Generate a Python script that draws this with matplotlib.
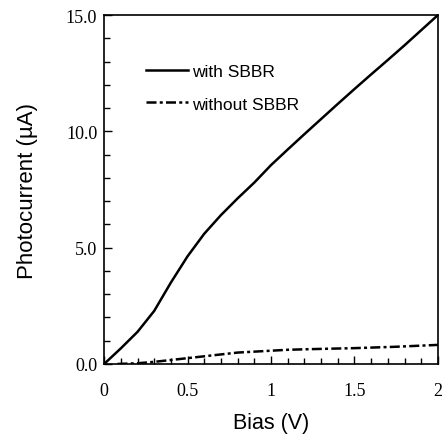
import matplotlib
matplotlib.use('Agg')
import matplotlib.pyplot as plt
from matplotlib.ticker import MultipleLocator, FixedFormatter, FixedLocator

# photocurrent vs bias
bias_with = [0, 0.1, 0.2, 0.3, 0.4, 0.5, 0.6, 0.7, 0.8, 0.9, 1.0,
             1.1, 1.2, 1.3, 1.4, 1.5, 1.6, 1.7, 1.8, 1.9, 2.0]
curr_with = [0, 0.67, 1.38, 2.28, 3.5, 4.63, 5.6, 6.4, 7.12, 7.8, 8.55,
             9.22, 9.88, 10.53, 11.18, 11.82, 12.45, 13.07, 13.7, 14.35, 15.0]

bias_without = [0.08, 0.2, 0.3, 0.4, 0.5, 0.6, 0.8, 1.0, 1.1, 1.25, 1.5, 1.75, 2.0]
curr_without = [0.0, 0.03, 0.09, 0.17, 0.25, 0.33, 0.49, 0.57, 0.61, 0.64, 0.68, 0.74, 0.82]

xticks = [0, 0.5, 1, 1.5, 2]
xlabels = ['0', '0.5', '1', '1.5', '2']
yticks = [0, 5, 10, 15]
ylabels = ['0.0', '5.0', '10.0', '15.0']

fig = plt.figure(figsize=(4.45, 4.35), dpi=100)
ax = fig.add_axes([0.234, 0.161, 0.75, 0.802])

ax.plot(bias_with, curr_with, color='black', lw=1.8, label='with SBBR')
ax.plot(bias_without, curr_without, color='black', lw=1.8, dashes=(4, 1.3, 1.2, 1.3), label='without SBBR')

ax.set_xlim(0, 2)
ax.set_ylim(0, 15)
ax.xaxis.set_major_locator(FixedLocator(xticks))
ax.xaxis.set_major_formatter(FixedFormatter(xlabels))
ax.yaxis.set_major_locator(FixedLocator(yticks))
ax.yaxis.set_major_formatter(FixedFormatter(ylabels))
ax.xaxis.set_minor_locator(MultipleLocator(0.1))
ax.yaxis.set_minor_locator(MultipleLocator(1))
ax.tick_params(which='both', direction='in', top=False, right=False)
ax.tick_params(which='major', length=6, width=1)
ax.tick_params(which='minor', length=4, width=1)
ax.tick_params(axis='x', which='major', pad=13)
ax.tick_params(axis='y', which='major', pad=5)
for lab in ax.get_xticklabels() + ax.get_yticklabels():
    lab.set_fontfamily('Liberation Serif')
    lab.set_fontsize(13)
for sp in ax.spines.values():
    sp.set_linewidth(1.2)

ax.set_xlabel('Bias (V)', fontfamily='Liberation Sans', fontsize=15.5, labelpad=9)
ax.set_ylabel('Photocurrent (\u00b5A)', fontfamily='Liberation Sans', fontsize=16, labelpad=20)

leg = ax.legend(loc='upper left', bbox_to_anchor=(0.08, 0.905), frameon=False,
                handlelength=2.4, handletextpad=0.25, labelspacing=1.0,
                prop={'family': 'Liberation Sans', 'size': 12.5})

fig.savefig('out.png', dpi=100)
